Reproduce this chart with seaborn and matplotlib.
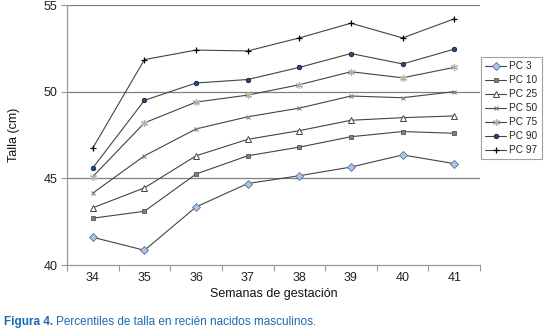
import matplotlib
matplotlib.use("Agg")
import matplotlib.pyplot as plt
import seaborn as sns
import pandas as pd

# === datos ===
semanas = [34, 35, 36, 37, 38, 39, 40, 41]
pc3 = [41.6, 40.85, 43.35, 44.7, 45.15, 45.65, 46.35, 45.85]
pc10 = [42.7, 43.1, 45.25, 46.3, 46.8, 47.4, 47.7, 47.6]
pc25 = [43.3, 44.45, 46.3, 47.25, 47.75, 48.35, 48.5, 48.6]
pc50 = [44.15, 46.3, 47.85, 48.55, 49.05, 49.75, 49.65, 50.0]
pc75 = [45.1, 48.2, 49.4, 49.8, 50.4, 51.15, 50.8, 51.4]
pc90 = [45.6, 49.5, 50.5, 50.7, 51.4, 52.2, 51.6, 52.45]
pc97 = [46.75, 51.85, 52.4, 52.35, 53.1, 53.95, 53.1, 54.2]

etiquetas = ["PC 3", "PC 10", "PC 25", "PC 50", "PC 75", "PC 90", "PC 97"]
series = [pc3, pc10, pc25, pc50, pc75, pc90, pc97]

# estilo de marcador por serie (marker, size, facecolor, edgecolor, edgewidth)
estilos = {
    "PC 3": ("D", 3.6, "#a9c5ea", "#5c708f", 0.6),
    "PC 10": ("s", 3.4, "#7f7f7f", "#555555", 0.6),
    "PC 25": ("^", 4.2, "white", "#444444", 0.7),
    "PC 50": ("x", 3.2, "#808080", "#808080", 0.8),
    "PC 75": ((6, 2, 0), 5, "#b0b0b0", "#b0b0b0", 0.9),
    "PC 90": ("o", 3.3, "#1f4e8c", "#111111", 0.5),
    "PC 97": ("+", 4.5, "black", "black", 0.9),
}

df = pd.DataFrame({"semana": semanas})
for nombre, vals in zip(etiquetas, series):
    df[nombre] = vals

sns.set_theme(style="white")
plt.rcParams["font.family"] = ["Liberation Sans", "DejaVu Sans"]

fig = plt.figure(figsize=(5.45, 3.31), dpi=100)
ax = fig.add_axes([67 / 545, 1 - 265 / 331, 413 / 545, 260 / 331])

for nombre in etiquetas:
    m, ms, fc, ec, mew = estilos[nombre]
    sns.lineplot(data=df, x="semana", y=nombre, ax=ax, label=nombre,
                 color="#444444", linewidth=0.8, marker=m, markersize=ms,
                 markerfacecolor=fc, markeredgecolor=ec, markeredgewidth=mew)

# ejes
ax.set_xlim(33.5, 41.5)
ax.set_ylim(40, 55)
ax.set_xticks(semanas)
ax.set_xticks([s - 0.5 for s in semanas] + [41.5], minor=True)
ax.set_yticks([40, 45, 50, 55])
ax.tick_params(axis="x", which="major", length=0, labelsize=9, pad=5, colors="#222222")
ax.tick_params(axis="x", which="minor", length=4, width=0.8, color="#999999", direction="out", bottom=True)
ax.tick_params(axis="y", length=4, width=0.8, color="#999999", direction="out", left=True,
               labelsize=9, labelcolor="#222222", pad=3)

for y in [45, 50, 55]:
    ax.axhline(y, color="#808080", linewidth=0.9, zorder=0)

for lado in ["top", "right"]:
    ax.spines[lado].set_visible(False)
for lado in ["left", "bottom"]:
    ax.spines[lado].set_color("#999999")
    ax.spines[lado].set_linewidth(0.9)

ax.set_xlabel("Semanas de gestación", fontsize=9, color="#111111", labelpad=3)
ax.set_ylabel("Talla (cm)", fontsize=9, color="#111111", labelpad=17)

# leyenda a la derecha
handles, labels = ax.get_legend_handles_labels()
ax.get_legend().remove()
leg = fig.legend(handles, labels, loc="upper left", bbox_to_anchor=(481 / 545, 1 - 57 / 331),
                 fontsize=7.3, frameon=True, fancybox=False, handlelength=2.1,
                 handletextpad=0.3, borderpad=0.4, labelspacing=0.4, borderaxespad=0)
leg.get_frame().set_edgecolor("#888888")
leg.get_frame().set_linewidth(0.8)

# pie de figura
azul = "#1b6ab3"
t1 = fig.text(4 / 545, 1 - 322 / 331, "Figura 4.", fontsize=8.5, fontweight="bold", color=azul, va="center")
fig.canvas.draw()
bb = t1.get_window_extent()
fig.text(bb.x1 / fig.bbox.width + 3 / 545, 1 - 322 / 331,
         "Percentiles de talla en recién nacidos masculinos.", fontsize=8.5, color=azul, va="center")

fig.savefig("out.png", dpi=100)
